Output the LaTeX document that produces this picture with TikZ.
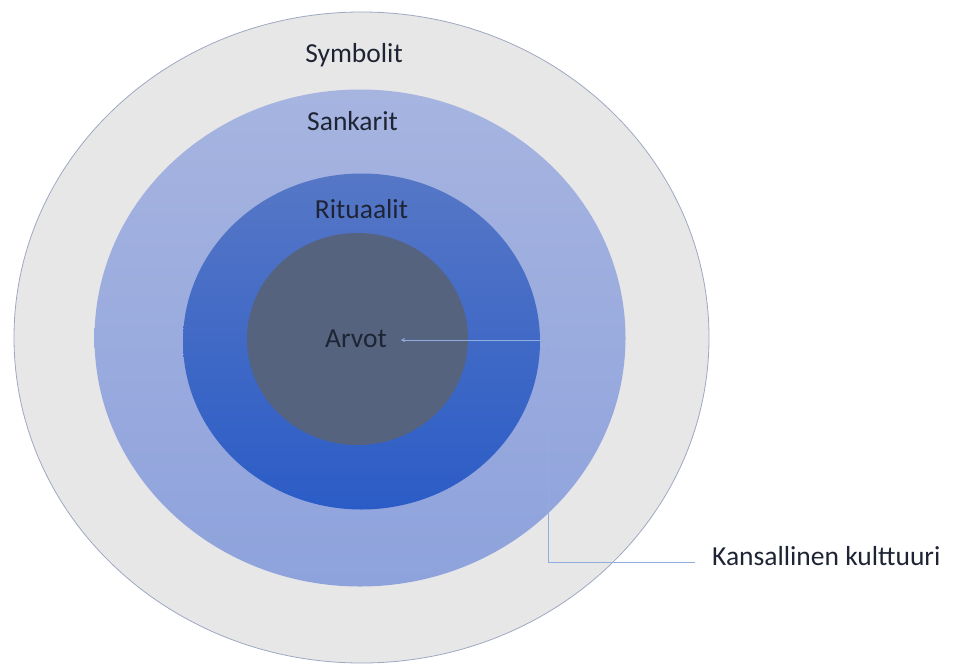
\documentclass[tikz,border=0pt]{standalone}
\usepackage{fontspec}
\setmainfont{Carlito}
\usetikzlibrary{shapes.geometric,arrows.meta}
\definecolor{outerfill}{HTML}{E8E7E7}
\definecolor{outerline}{HTML}{9EA8C2}
\definecolor{heroTop}{HTML}{A6B4E0}
\definecolor{heroBot}{HTML}{8EA2DC}
\definecolor{ritTop}{HTML}{5677C6}
\definecolor{ritBot}{HTML}{2B5CC6}
\definecolor{valfill}{HTML}{55637F}
\definecolor{connline}{HTML}{8FAEDF}
\definecolor{txt}{HTML}{1E2433}
\tikzset{
  ring/.style={ellipse, inner sep=0pt},
  lbl/.style={font=\fontsize{27.5}{32}\selectfont, text=txt, inner sep=0pt},
  conn/.style={draw=connline, line width=0.9pt},
}
\begin{document}
\begin{tikzpicture}[x=1pt,y=-1pt]
\useasboundingbox (0,0) rectangle (955,664);
\node[ring, fill=outerfill, draw=outerline, line width=0.8pt, minimum width=695pt, minimum height=651pt] (outer) at (361.5,337.5) {};
\node[ring, top color=heroTop, bottom color=heroBot, minimum width=531pt, minimum height=497pt] (hero) at (360,338) {};
\node[ring, top color=ritTop, bottom color=ritBot, minimum width=357pt, minimum height=336pt] (rit) at (361.5,341.5) {};
\node[ring, fill=valfill, minimum width=221pt, minimum height=212pt] (val) at (357.5,339) {};
\node[lbl] (symb) at (354,55) {Symbolit};
\node[lbl] (sank) at (352.5,121) {Sankarit};
\node[lbl] (ritl) at (361.5,209) {Rituaalit};
\node[lbl] (arvl) at (356,339) {Arvot};
\node[lbl, anchor=west] (kk) at (712,556) {Kansallinen kulttuuri};
\coordinate (b1) at (548,562);
\coordinate (b2) at (548,340);
\coordinate (tip) at (401,340);
\draw[conn, -{Stealth[length=4pt,width=4pt]}] (kk.west |- b1) ++(-17,0) -- (b1) -- (b2) -- (tip);
\end{tikzpicture}
\end{document}
